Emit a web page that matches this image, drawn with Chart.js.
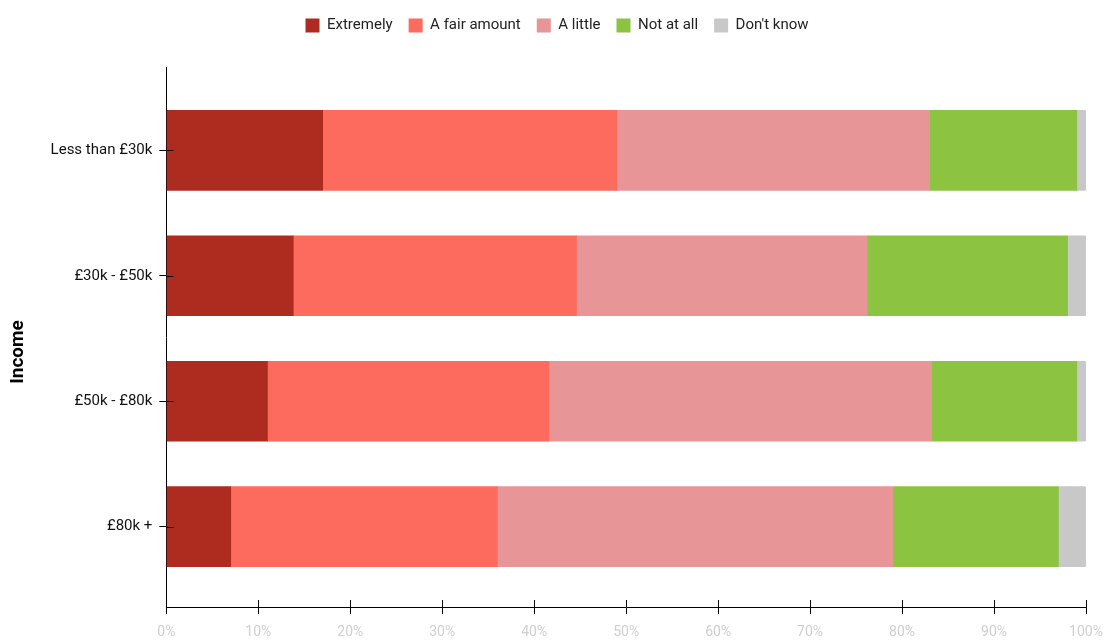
<!DOCTYPE html>
<html>
<head>
<meta charset="utf-8">
<script src="https://cdn.jsdelivr.net/npm/chart.js@4/dist/chart.umd.min.js"></script>
<style>
  html, body { margin: 0; padding: 0; background: #fff; }
  #wrap { width: 1104px; height: 642px; position: relative; }
</style>
</head>
<body>
<div id="wrap"><canvas id="bar_chart"></canvas></div>
<script>
const incomeLabels = ["Less than £30k", "£30k - £50k", "£50k - £80k", "£80k +"];

const extremely   = [17, 13.8, 11, 7];
const fairAmount  = [32, 30.8, 30.6, 29];
const aLittle     = [34, 31.6, 41.6, 43];
const notAtAll    = [16, 21.8, 15.8, 18];
const dontKnow    = [1, 2, 1, 3];

const seriesNames = ["Extremely", "A fair amount", "A little", "Not at all", "Don't know"];
const seriesColors = ["#ad2c1f", "#fc6b5d", "#e79596", "#8cc442", "#c8c8c8"];
const xTicks = [0, 10, 20, 30, 40, 50, 60, 70, 80, 90, 100];

Chart.defaults.font.family = "Roboto, 'Noto Sans', sans-serif";

const toPoints = arr => arr.map((v, i) => ({ x: v, y: i }));

// extra room under the legend
const legendGap = {
  id: 'legendGap',
  beforeInit(chart) {
    const fit = chart.legend.fit;
    chart.legend.fit = function () {
      fit.bind(chart.legend)();
      this.height += 24;
    };
  }
};

// little helper so the tick marks cross the axis lines like in the original,
// plus the axis title which sits a bit below the middle
const crossTicks = {
  id: 'crossTicks',
  afterDraw(chart) {
    const { ctx, chartArea, scales } = chart;
    ctx.save();
    ctx.strokeStyle = '#000';
    ctx.lineWidth = 1;
    scales.x.ticks.forEach((t, i) => {
      const px = Math.round(scales.x.getPixelForTick(i)) + 0.5;
      ctx.beginPath();
      ctx.moveTo(px, chartArea.bottom);
      ctx.lineTo(px, chartArea.bottom - 7);
      ctx.stroke();
    });
    scales.y.ticks.forEach((t, i) => {
      const py = Math.round(scales.y.getPixelForTick(i)) + 0.5;
      ctx.beginPath();
      ctx.moveTo(chartArea.left, py);
      ctx.lineTo(chartArea.left + 7, py);
      ctx.stroke();
    });

    ctx.translate(scales.y.left + 8, (chartArea.top + chartArea.bottom) / 2 + 15);
    ctx.rotate(-Math.PI / 2);
    ctx.fillStyle = '#000';
    ctx.font = "bold 19px Roboto, 'Noto Sans', sans-serif";
    ctx.textAlign = 'center';
    ctx.textBaseline = 'middle';
    ctx.fillText('Income', 0, 0);
    ctx.restore();
  }
};

const config = {
  type: 'bar',
  data: {
    datasets: [extremely, fairAmount, aLittle, notAtAll, dontKnow].map((arr, k) => ({
      label: seriesNames[k],
      data: toPoints(arr),
      backgroundColor: seriesColors[k],
      borderWidth: 0,
      barThickness: 80,
      borderRadius: k === 4 ? { topRight: 2, bottomRight: 2 } : 0,
      borderSkipped: false
    }))
  },
  options: {
    indexAxis: 'y',
    responsive: true,
    maintainAspectRatio: false,
    animation: false,
    layout: { padding: { top: 2, right: 0, bottom: 0, left: 10 } },
    plugins: {
      legend: {
        position: 'top',
        labels: {
          boxWidth: 14,
          boxHeight: 14,
          padding: 16,
          color: '#222',
          font: { size: 15 }
        }
      },
      tooltip: { enabled: false }
    },
    scales: {
      x: {
        type: 'linear',
        stacked: true,
        min: 0,
        max: 100,
        afterBuildTicks: s => { s.ticks = xTicks.map(v => ({ value: v })); },
        afterFit: s => { s.height = 35; s.paddingRight = 18; },
        grid: { drawOnChartArea: false, color: '#000', tickLength: 7 },
        border: { color: '#000', width: 1 },
        ticks: {
          color: '#cfcfcf',
          font: { size: 14 },
          padding: 10,
          callback: v => v + '%'
        }
      },
      y: {
        type: 'linear',
        stacked: true,
        reverse: true,
        offset: false,
        min: -0.664,
        max: 3.64,
        afterBuildTicks: s => { s.ticks = incomeLabels.map((_, i) => ({ value: i })); },
        grid: { drawOnChartArea: false, offset: false, color: '#000', tickLength: 7 },
        border: { color: '#000', width: 1 },
        ticks: {
          color: '#111',
          font: { size: 15 },
          padding: 7,
          callback: v => incomeLabels[v]
        },
        title: {
          // space is kept here, the text itself is drawn by crossTicks
          display: true,
          text: 'Income',
          color: 'rgba(0,0,0,0)',
          font: { size: 18, weight: 'bold' },
          padding: { top: 0, bottom: 12 }
        }
      }
    }
  },
  plugins: [legendGap, crossTicks]
};

const bar_chart = new Chart(document.getElementById("bar_chart"), config);
</script>
</body>
</html>
